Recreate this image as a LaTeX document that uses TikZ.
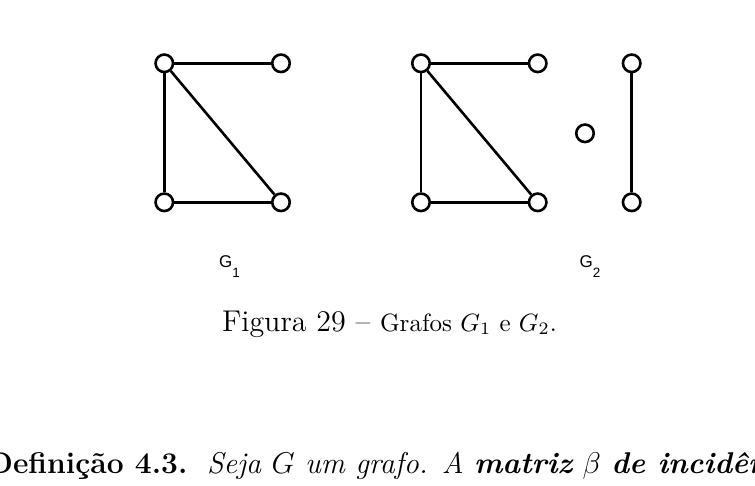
\documentclass[tikz,border=0pt]{standalone}
\usepackage{fontspec}
\newfontfamily\arialf{Liberation Sans}
\begin{document}
\begin{tikzpicture}[x=1pt,y=-1pt,
  vtx/.style={circle,draw,line width=2.6pt,fill=white,minimum size=17.5pt,inner sep=0pt},
  edge/.style={line width=2.6pt},
  glabel/.style={anchor=base west,inner sep=0pt,font=\arialf\fontsize{17}{20}\selectfont}]
\useasboundingbox (0,0) rectangle (755,486);
\clip (0,0) rectangle (755,486);
% G1
\node[vtx] (a1) at (164.3,63.3) {};
\node[vtx] (b1) at (281,63.3) {};
\node[vtx] (c1) at (164.3,202.3) {};
\node[vtx] (d1) at (281,202.3) {};
% G2
\node[vtx] (a2) at (421,63.3) {};
\node[vtx] (b2) at (537.7,63.3) {};
\node[vtx] (c2) at (421,202.3) {};
\node[vtx] (d2) at (537.7,202.3) {};
\node[vtx] (e2) at (585,133.3) {};
\node[vtx] (f2) at (631.7,63.3) {};
\node[vtx] (g2) at (631.7,202.3) {};
\draw[edge] (a1) -- (b1);
\draw[edge] (a1) -- (c1);
\draw[edge] (a1) -- (d1);
\draw[edge] (c1) -- (d1);
\draw[edge] (a2) -- (b2);
\draw[edge] (a2) -- (c2);
\draw[edge] (a2) -- (d2);
\draw[edge] (c2) -- (d2);
\draw[edge] (f2) -- (g2);
% labels
\node[glabel] (l1) at (219,267.5) {G\raisebox{-10pt}{\fontsize{13.5}{15}\selectfont 1}};
\node[glabel] (l2) at (579.5,267.5) {G\raisebox{-10pt}{\fontsize{13.5}{15}\selectfont 2}};
% caption
\node[anchor=base west,inner sep=0pt] (cap) at (222,331)
  {\scalebox{2.5}{\fontsize{12}{14.4}\selectfont Figura 29 -- {\fontsize{10}{12}\selectfont Grafos $G_1$ e $G_2$.}}};
% text
\node[anchor=base west,inner sep=0pt] (def) at (-13,473)
  {\scalebox{2.5}{\fontsize{12}{14.4}\selectfont\textbf{Definição 4.3.}\ \ \textit{Seja $G$ um grafo. A \textbf{matriz} $\beta$ \textbf{de incidência}}}};
\end{tikzpicture}
\end{document}
